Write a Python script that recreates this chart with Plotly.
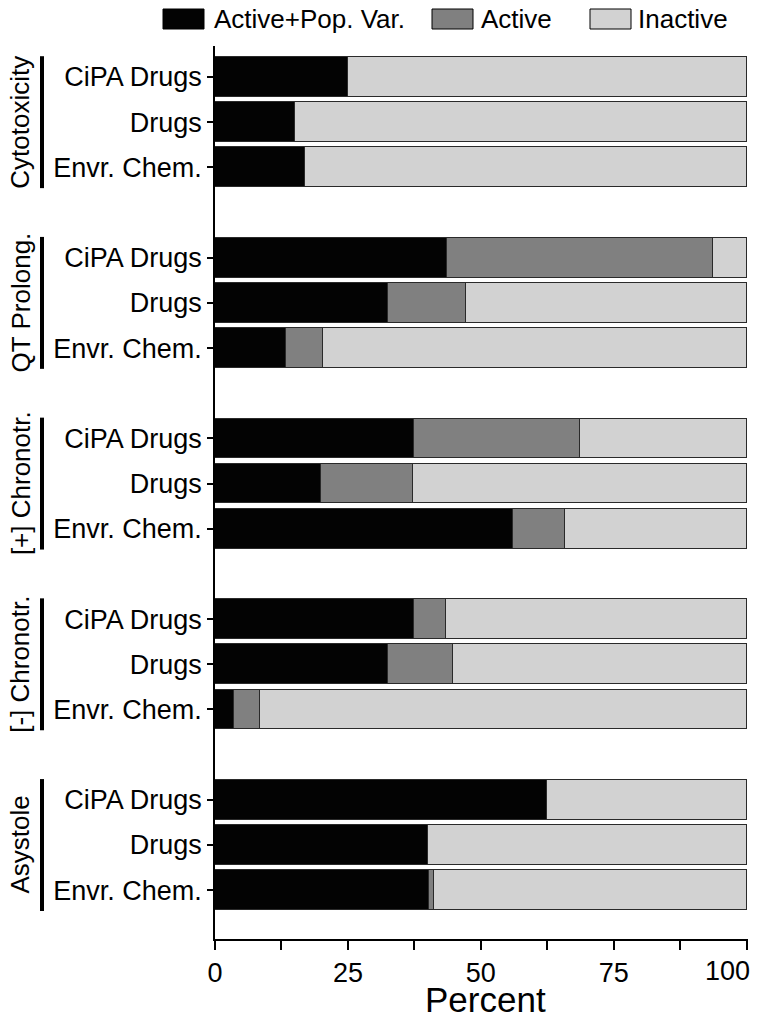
import plotly.graph_objects as go

# ---------------------------------------------------------------------------
# Data (percent of compounds per assay endpoint)
# ---------------------------------------------------------------------------
GROUPS = ["Cytotoxicity", "QT Prolong.", "[+] Chronotr.", "[-] Chronotr.", "Asystole"]
COMPOUNDS = ["CiPA Drugs", "Drugs", "Envr. Chem."]

ACTIVE_POP = [25.0, 15.0, 17.0,
              43.7, 32.5, 13.3,
              37.5, 20.0, 56.1,
              37.5, 32.5, 3.5,
              62.5, 40.0, 40.2]
ACTIVE = [0.0, 0.0, 0.0,
          49.9, 14.8, 7.1,
          31.2, 17.3, 9.7,
          6.0, 12.3, 4.9,
          0.0, 0.0, 1.0]
INACTIVE = [75.0, 85.0, 83.0,
            6.4, 52.7, 79.6,
            31.3, 62.7, 34.2,
            56.5, 55.2, 91.6,
            37.5, 60.0, 58.8]

SERIES = [("Active+Pop. Var.", ACTIVE_POP, "#030303"),
          ("Active", ACTIVE, "#808080"),
          ("Inactive", INACTIVE, "#d2d2d2")]

# ---------------------------------------------------------------------------
# Layout geometry (page pixels; the page body adds an 8px offset)
# ---------------------------------------------------------------------------
OFF = 8
W, H = 760 - OFF, 1020 - OFF
PLOT_X0, PLOT_X1, PLOT_Y0, PLOT_Y1 = 215, 748, 46, 939   # in page pixels
L, T = PLOT_X0 - OFF, PLOT_Y0 - OFF
R, B = W - (PLOT_X1 - OFF), H - (PLOT_Y1 - OFF)
PW, PH = PLOT_X1 - PLOT_X0, PLOT_Y1 - PLOT_Y0
FONT = "Liberation Sans, Arial, sans-serif"
EDGE = "#2a2a2a"


def px_x(p):
    return (p - PLOT_X0) / PW


def px_y(p):
    return 1 - (p - PLOT_Y0) / PH


# slot positions: 3 bars per group, one empty slot between groups
ypos = [g * 4 + i for g in range(len(GROUPS)) for i in range(len(COMPOUNDS))]
ylabels = [c for _ in GROUPS for c in COMPOUNDS]

fig = go.Figure()
for name, vals, color in SERIES:
    fig.add_trace(go.Bar(
        y=ypos, x=vals, name=name, orientation="h",
        marker=dict(color=color, line=dict(color=EDGE, width=1.5)),
        width=0.88, showlegend=False,
    ))

shapes = []
annotations = []

# group brackets + rotated labels
for g, label in enumerate(GROUPS):
    shapes.append(dict(
        type="line", xref="paper", yref="y",
        x0=px_x(42), x1=px_x(42), y0=g * 4 - 0.46, y1=g * 4 + 2.46,
        line=dict(color="black", width=4),
    ))
    annotations.append(dict(
        xref="paper", yref="y", x=px_x(20.5), y=g * 4 + 1,
        text=label, textangle=-90, showarrow=False,
        xanchor="center", yanchor="middle",
        font=dict(family=FONT, size=26, color="black"),
    ))

# custom legend with wide swatches
legend_items = [(163, 204, 212), (432, 473, 479), (590, 631, 636)]
for (x0, x1, tx), (name, _, color) in zip(legend_items, SERIES):
    shapes.append(dict(
        type="rect", xref="paper", yref="paper",
        x0=px_x(x0), x1=px_x(x1), y0=px_y(29), y1=px_y(9),
        fillcolor=color, line=dict(color="black", width=1),
    ))
    annotations.append(dict(
        xref="paper", yref="paper", x=px_x(tx), y=px_y(19),
        text=name, showarrow=False, xanchor="left", yanchor="middle",
        font=dict(family=FONT, size=26, color="black"),
    ))

# last tick label is right-aligned with the axis end
annotations.append(dict(
    xref="paper", yref="paper", x=px_x(752), y=px_y(971),
    text="100", showarrow=False, xanchor="right", yanchor="middle",
    font=dict(family=FONT, size=27, color="black"),
))
# axis title
annotations.append(dict(
    xref="paper", yref="paper", x=px_x(485), y=px_y(999),
    text="Percent", showarrow=False, xanchor="center", yanchor="middle",
    font=dict(family=FONT, size=35, color="black"),
))

xticks = [0, 12.5, 25, 37.5, 50, 62.5, 75, 87.5, 100]
xtext = ["0", "", "25", "", "50", "", "75", "", ""]

fig.update_layout(
    width=W, height=H,
    barmode="stack", bargap=0,
    plot_bgcolor="white", paper_bgcolor="white",
    margin=dict(l=L, r=R, t=T, b=B, pad=0),
    font=dict(family=FONT, color="black", size=27),
    shapes=shapes, annotations=annotations,
    showlegend=False,
)
fig.update_xaxes(
    range=[0, 100.25], tickvals=xticks, ticktext=xtext, automargin=False,
    showline=True, linecolor="black", linewidth=1.5,
    ticks="outside", ticklen=9, tickwidth=1.5, tickcolor="black",
    showgrid=False, zeroline=False,
    tickfont=dict(family=FONT, size=27, color="black"),
)
fig.update_yaxes(
    range=[19.08, -0.686], tickvals=ypos, ticktext=ylabels, automargin=False,
    showline=True, linecolor="black", linewidth=1.5,
    ticks="outside", ticklen=6, tickwidth=1.5, tickcolor="black",
    showgrid=False, zeroline=False,
    tickfont=dict(family=FONT, size=27, color="black"),
)

fig.write_html("out.html")
